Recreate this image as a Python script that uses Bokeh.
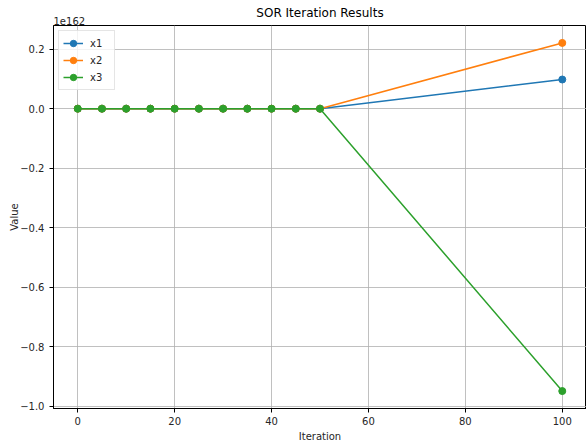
from bokeh.plotting import figure
from bokeh.models import (SingleIntervalTicker, CustomJSTickFormatter, Title,
                          Range1d, Legend)
from bokeh.embed import file_html
from bokeh.resources import INLINE

# ---- data (values in units of 1e162) ----
iterations = [0, 5, 10, 15, 20, 25, 30, 35, 40, 45, 50, 100]
x1 = [0, 0, 0, 0, 0, 0, 0, 0, 0, 0, 0, 0.098]
x2 = [0, 0, 0, 0, 0, 0, 0, 0, 0, 0, 0, 0.221]
x3 = [0, 0, 0, 0, 0, 0, 0, 0, 0, 0, 0, -0.949]
series_names = ["x1", "x2", "x3"]
series_colors = ["#1f77b4", "#ff7f0e", "#2ca02c"]
offset_text = "1e162"
title_text = "SOR Iteration Results"
x_label = "Iteration"
y_label = "Value"

FONT = "DejaVu Sans"

all_y = x1 + x2 + x3
ymin, ymax = min(all_y), max(all_y)
ypad = (ymax - ymin) * 0.05
xmin, xmax = min(iterations), max(iterations)
xpad = (xmax - xmin) * 0.05

p = figure(width=586, height=444, output_backend="svg", toolbar_location=None,
           x_range=Range1d(xmin - xpad, xmax + xpad),
           y_range=Range1d(ymin - ypad, ymax + ypad),
           min_border_left=53, min_border_right=0,
           min_border_top=25, min_border_bottom=35,
           background_fill_color="white", border_fill_color="white")

p.title.text = title_text
p.title.align = "center"
p.title.text_font = FONT
p.title.text_font_size = "12px"
p.title.text_font_style = "normal"
p.title.text_color = "black"
p.title.standoff = -12

off = Title(text=offset_text, align="left", text_font=FONT,
            text_font_size="10px", text_font_style="normal",
            text_color="#262626", standoff=2, offset=0)
p.add_layout(off, "above")

p.outline_line_color = "black"
p.outline_line_width = 1
p.outline_line_alpha = 1

for ax in (p.xaxis[0], p.yaxis[0]):
    ax.axis_line_color = "black"
    ax.major_tick_line_color = "black"
    ax.major_tick_out = 4
    ax.major_tick_in = 0
    ax.minor_tick_out = 0
    ax.minor_tick_in = 0
    ax.major_label_text_font = FONT
    ax.major_label_text_font_size = "10px"
    ax.major_label_text_color = "#262626"
    ax.axis_label_text_font = FONT
    ax.axis_label_text_font_size = "10px"
    ax.axis_label_text_font_style = "normal"
    ax.axis_label_text_color = "#262626"
    ax.major_label_standoff = 4

p.xaxis.ticker = SingleIntervalTicker(interval=20)
p.yaxis.ticker = SingleIntervalTicker(interval=0.2)
p.yaxis.formatter = CustomJSTickFormatter(code="""
    let v = Math.abs(tick) < 1e-9 ? 0 : tick;
    return v.toFixed(1).replace('-', '\u2212');
""")
p.xaxis.axis_label = x_label
p.yaxis.axis_label = y_label
p.xaxis.axis_label_standoff = 3
p.yaxis.major_label_standoff = 5
p.yaxis.axis_label_standoff = -3

p.grid.grid_line_color = "#b0b0b0"
p.grid.grid_line_width = 0.8

items = []
for name, ys, col in zip(series_names, [x1, x2, x3], series_colors):
    l = p.line(iterations, ys, line_color=col, line_width=1.5)
    s = p.scatter(iterations, ys, size=7, fill_color=col, line_color=col)
    items.append((name, [l, s]))

legend = Legend(items=items, location="top_left")
legend.label_text_font = FONT
legend.label_text_font_size = "10px"
legend.label_text_color = "#262626"
legend.glyph_width = 20
legend.glyph_height = 16
legend.label_height = 16
legend.label_standoff = 7
legend.spacing = 1
legend.padding = 4
legend.margin = 5
legend.border_line_color = "#cccccc"
legend.border_line_width = 1
legend.background_fill_color = "white"
legend.background_fill_alpha = 0.8
p.add_layout(legend)

open("out.html", "w").write(file_html(p, INLINE))
